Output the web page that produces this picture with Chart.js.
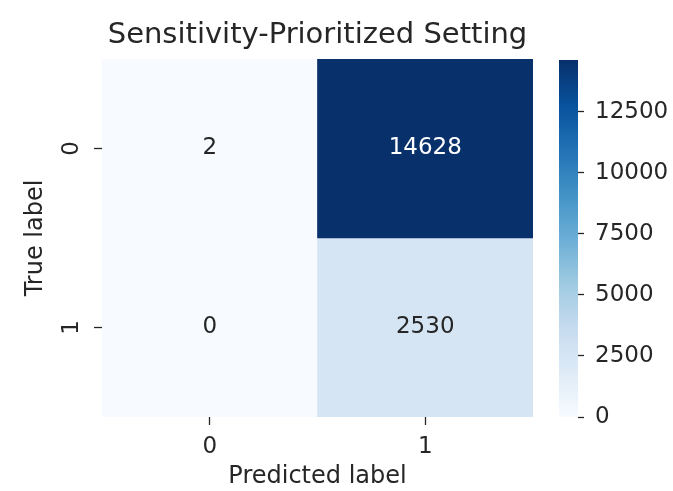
<!DOCTYPE html>
<html><head><meta charset="utf-8">
<script src="https://cdn.jsdelivr.net/npm/chart.js@4.4.1/dist/chart.umd.min.js"></script>
<style>
html,body{margin:0;padding:0;background:#fff;}
#wrap{position:relative;width:673px;height:491px;overflow:hidden;}
canvas{position:absolute;top:0;}
</style>
</head><body>
<div id="wrap">
<canvas id="main" width="673" height="491" style="left:0;width:673px;height:491px"></canvas>
<canvas id="cbar" width="133" height="491" style="left:540px;width:133px;height:491px"></canvas>
</div>
<script>
// ---- data ----
const predictedLabels = ['0', '1'];
const trueLabels = ['0', '1'];
const rowTrue0 = [2, 14628];
const rowTrue1 = [0, 2530];
const matrixRows = [rowTrue0, rowTrue1];
const colorbarTicks = [0, 2500, 5000, 7500, 10000, 12500];
const titleText = 'Sensitivity-Prioritized Setting';
const xTitle = 'Predicted label';
const yTitle = 'True label';
const vmin = 0;
const vmax = Math.max(...rowTrue0, ...rowTrue1);

// ---- style ----
const FONT = '"DejaVu Sans", "Liberation Sans", sans-serif';
const TXT = '#262626';
const TICK_SIZE = 23;
const LABEL_SIZE = 24;
const BLUES = ['#f7fbff','#deebf7','#c6dbef','#9ecae1','#6baed6','#4292c6','#2171b5','#08519c','#08306b'];
function hexToRgb(h){ return [parseInt(h.slice(1,3),16), parseInt(h.slice(3,5),16), parseInt(h.slice(5,7),16)]; }
function bluesRgb(t){
  t = Math.max(0, Math.min(1, t));
  const n = BLUES.length - 1, p = t * n, i = Math.min(Math.floor(p), n - 1), f = p - i;
  const a = hexToRgb(BLUES[i]), b = hexToRgb(BLUES[i+1]);
  return a.map((v, k) => Math.round(v + (b[k] - v) * f));
}
function colorFor(v){ const c = bluesRgb((v - vmin) / (vmax - vmin)); return `rgb(${c[0]},${c[1]},${c[2]})`; }
function textColorFor(v){
  const c = bluesRgb((v - vmin) / (vmax - vmin)).map(x => { x /= 255; return x <= 0.03928 ? x / 12.92 : Math.pow((x + 0.055) / 1.055, 2.4); });
  const lum = 0.2126 * c[0] + 0.7152 * c[1] + 0.0722 * c[2];
  return lum > 0.408 ? TXT : '#ffffff';
}

const cellText = {
  id: 'cellText',
  afterDatasetsDraw(chart){
    const ctx = chart.ctx;
    chart.data.datasets.forEach((ds, di) => {
      if (!ds.values) return;
      const meta = chart.getDatasetMeta(di);
      meta.data.forEach((el, j) => {
        const v = ds.values[j];
        const c = el.getCenterPoint();
        ctx.save();
        ctx.font = TICK_SIZE + 'px ' + FONT;
        ctx.fillStyle = textColorFor(v);
        ctx.textAlign = 'center';
        ctx.textBaseline = 'middle';
        ctx.fillText(String(v), c.x, c.y);
        ctx.restore();
      });
    });
  }
};

const datasets = matrixRows.map((row, r) => ({
  label: 'True ' + trueLabels[r],
  values: row,
  data: row.map(() => [r, r + 1]),
  backgroundColor: row.map(colorFor),
  borderWidth: 0,
  barPercentage: 1,
  categoryPercentage: 1,
  grouped: false
}));

new Chart(document.getElementById('main'), {
  type: 'bar',
  data: { labels: predictedLabels, datasets },
  options: {
    responsive: false,
    devicePixelRatio: 1,
    animation: false,
    layout: { padding: { left: 0, right: 38, top: 0, bottom: 0 } },
    plugins: {
      legend: { display: false },
      tooltip: { enabled: false },
      title: {
        display: true, text: titleText, color: TXT,
        font: { family: FONT, size: 29, weight: 'normal' },
        padding: { top: 18, bottom: 6.2 }
      }
    },
    scales: {
      x: {
        type: 'category', offset: true,
        grid: { offset: false, drawOnChartArea: false, drawTicks: true, tickLength: 8, tickColor: TXT, tickWidth: 1.3 },
        border: { display: false },
        ticks: { color: TXT, font: { family: FONT, size: TICK_SIZE }, padding: 8, maxRotation: 0, minRotation: 0 },
        title: { display: true, text: xTitle, color: TXT, font: { family: FONT, size: LABEL_SIZE }, padding: { top: 0, bottom: 0 } },
        afterFit(s){ s.height = 74; }
      },
      y: {
        type: 'linear', min: 0, max: 2, reverse: true,
        afterBuildTicks(s){ s.ticks = [0.5, 1.5].map(v => ({ value: v })); },
        grid: { drawOnChartArea: false, drawTicks: true, tickLength: 8, tickColor: TXT, tickWidth: 1.3 },
        border: { display: false },
        ticks: { color: TXT, font: { family: FONT, size: TICK_SIZE }, padding: 15, minRotation: 90, maxRotation: 90, crossAlign: 'center',
          callback: (v) => trueLabels[Math.floor(v)] },
        title: { display: true, text: yTitle, color: TXT, font: { family: FONT, size: LABEL_SIZE }, padding: { top: 21, bottom: 0 } },
        afterFit(s){ s.width = 102; }
      },
      ySpace: {
        type: 'linear', position: 'right', display: true,
        grid: { display: false }, border: { display: false },
        ticks: { display: false },
        afterFit(s){ s.width = 102; }
      }
    }
  },
  plugins: [cellText]
});

// ---- colorbar ----
new Chart(document.getElementById('cbar'), {
  type: 'bar',
  data: {
    labels: [''],
    datasets: [{
      data: [[vmin, vmax]],
      borderWidth: 0, barPercentage: 1, categoryPercentage: 1,
      backgroundColor(ctx){
        const chart = ctx.chart;
        if (!chart.chartArea) return BLUES[0];
        const ys = chart.scales.y;
        const g = chart.ctx.createLinearGradient(0, ys.getPixelForValue(vmin), 0, ys.getPixelForValue(vmax));
        BLUES.forEach((c, i) => g.addColorStop(i / (BLUES.length - 1), c));
        return g;
      }
    }]
  },
  options: {
    responsive: false,
    devicePixelRatio: 1,
    animation: false,
    layout: { padding: { left: 19, right: 0, top: 60, bottom: 74 } },
    plugins: { legend: { display: false }, tooltip: { enabled: false }, title: { display: false } },
    scales: {
      x: { display: false, offset: true },
      y: {
        position: 'right', min: vmin, max: vmax,
        afterBuildTicks(s){ s.ticks = colorbarTicks.map(v => ({ value: v })); },
        grid: { drawOnChartArea: false, drawTicks: true, tickLength: 6, tickColor: TXT, tickWidth: 1.3 },
        border: { display: false },
        ticks: { color: TXT, font: { family: FONT, size: TICK_SIZE }, padding: 11, callback: (v) => String(v) },
        afterFit(s){ s.width = 95; }
      }
    }
  }
});
</script>
</body></html>
